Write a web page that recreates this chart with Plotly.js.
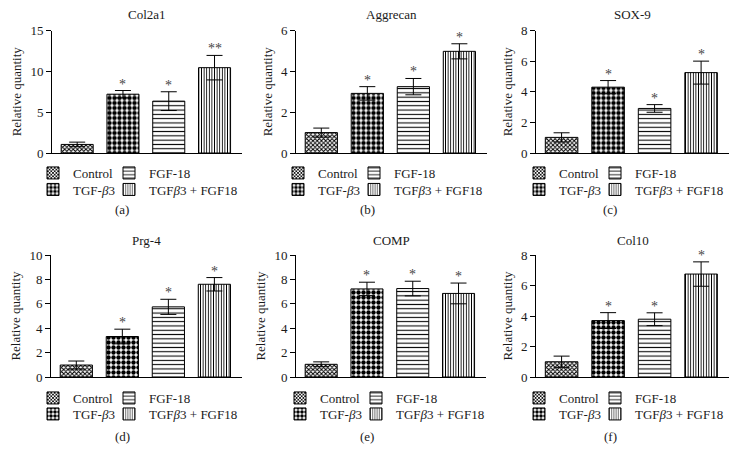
<!DOCTYPE html>
<html><head><meta charset="utf-8">
<script src="https://cdn.plot.ly/plotly-3.0.1.min.js"></script>
<style>html,body{margin:0;padding:0;background:#fff}#chart{width:733px;height:465px}</style>
</head><body><div id="chart"></div>
<script>
// ---- data ----
const groups = ["Control", "TGF-β3", "FGF-18", "TGFβ3 + FGF18"];
const legendNames = ["Control", "TGF-<i>β</i>3", "FGF-18", "TGF<i>β</i>3 + FGF18"];
const genes = ["Col2a1", "Aggrecan", "SOX-9", "Prg-4", "COMP", "Col10"];
const panelLabels = ["(a)", "(b)", "(c)", "(d)", "(e)", "(f)"];

const col2a1Mean = [1.05, 7.2, 6.35, 10.45];
const col2a1Err  = [0.28, 0.45, 1.15, 1.5];
const col2a1Sig  = ["", "*", "*", "**"];

const aggrecanMean = [1.0, 2.92, 3.25, 4.98];
const aggrecanErr  = [0.22, 0.33, 0.4, 0.37];
const aggrecanSig  = ["", "*", "*", "*"];

const sox9Mean = [1.02, 4.3, 2.91, 5.25];
const sox9Err  = [0.3, 0.43, 0.25, 0.75];
const sox9Sig  = ["", "*", "*", "*"];

const prg4Mean = [0.98, 3.32, 5.75, 7.6];
const prg4Err  = [0.33, 0.6, 0.62, 0.55];
const prg4Sig  = ["", "*", "*", "*"];

const compMean = [1.04, 7.22, 7.25, 6.85];
const compErr  = [0.2, 0.55, 0.6, 0.85];
const compSig  = ["", "*", "*", "*"];

const col10Mean = [1.0, 3.7, 3.79, 6.75];
const col10Err  = [0.37, 0.52, 0.42, 0.8];
const col10Sig  = ["", "*", "*", "*"];

const yMax   = [15, 6, 8, 10, 10, 8];
const yDtick = [5, 2, 2, 2, 2, 2];

const means = [col2a1Mean, aggrecanMean, sox9Mean, prg4Mean, compMean, col10Mean];
const errs  = [col2a1Err, aggrecanErr, sox9Err, prg4Err, compErr, col10Err];
const sigs  = [col2a1Sig, aggrecanSig, sox9Sig, prg4Sig, compSig, col10Sig];

// ---- style / layout ----
const W = 733, H = 465;
const FONT = "Liberation Serif, Times New Roman, serif";
const TXT = "#1a1a1a";
const patterns = [
  {shape: "x", size: 3, solidity: 0.55, fgcolor: "#000", bgcolor: "#fff"},
  {shape: ".", size: 5, solidity: 0.62, fgcolor: "#000", bgcolor: "#fff"},
  {shape: "-", size: 4.3, solidity: 0.25, fgcolor: "#000", bgcolor: "#fff"},
  {shape: "|", size: 2.6, solidity: 0.35, fgcolor: "#000", bgcolor: "#fff"}
];
// plot areas in pixels [x0, x1, yTop, yBottom]
const areas = [
  [52, 242, 30.5, 153], [296, 487, 30.5, 153], [536, 729, 30.5, 153],
  [51, 242, 255, 377], [296, 486, 255, 377], [536, 729, 255, 377]
];
const legTextX = [71, 316, 557, 71, 318, 557];
const legRowsTop = [173, 189.5], legRowsBot = [398, 414];
const titleY = [14, 14, 14, 240, 240, 240];
const letterX = [122, 367, 610, 122, 367, 610];
const letterY = [209, 209, 209, 436, 436, 436];

const traces = [];
const layout = {
  width: W, height: H,
  margin: {l: 0, r: 0, t: 0, b: 0},
  paper_bgcolor: "#fff", plot_bgcolor: "#fff",
  font: {family: FONT, color: TXT, size: 13},
  barmode: "overlay",
  annotations: []
};

let legIdx = 0;
for (let p = 0; p < 6; p++) {
  const n = p + 1;
  const xa = "xaxis" + (n === 1 ? "" : n), ya = "yaxis" + (n === 1 ? "" : n);
  const xr = "x" + (n === 1 ? "" : n), yr = "y" + (n === 1 ? "" : n);
  const [x0, x1, yt, yb] = areas[p];
  layout[xa] = {
    domain: [x0 / W, x1 / W], anchor: yr, type: "category",
    categoryorder: "array", categoryarray: groups,
    range: [-0.55, 3.6], showticklabels: false, ticks: "",
    showline: true, linecolor: "#000", linewidth: 1,
    showgrid: false, zeroline: false, fixedrange: true
  };
  layout[ya] = {
    domain: [1 - yb / H, 1 - yt / H], anchor: xr,
    range: [0, yMax[p]], dtick: yDtick[p], tick0: 0,
    ticks: "outside", ticklen: 5, tickwidth: 1, tickcolor: "#000",
    showline: true, linecolor: "#000", linewidth: 1,
    showgrid: false, zeroline: false, fixedrange: true,
    tickfont: {family: FONT, size: 13, color: TXT},
    title: {text: "Relative quantity", font: {family: FONT, size: 13, color: TXT}, standoff: 5}
  };
  for (let g = 0; g < 4; g++) {
    legIdx++;
    const lid = legIdx === 1 ? "legend" : "legend" + legIdx;
    traces.push({
      type: "bar", x: [groups[g]], y: [means[p][g]], width: [0.7],
      xaxis: xr, yaxis: yr, name: legendNames[g],
      legend: lid, showlegend: true, hoverinfo: "skip",
      marker: {color: "#fff", line: {color: "#000", width: 1}, pattern: patterns[g]},
      error_y: {type: "data", array: [errs[p][g]], visible: true, color: "#000", thickness: 1, width: 8}
    });
    const col = g === 0 || g === 1 ? 0 : 1;
    const row = g === 0 || g === 2 ? 0 : 1;
    const rows = p < 3 ? legRowsTop : legRowsBot;
    const tx = legTextX[p] + col * 76;
    layout[lid] = {
      x: (tx - 38) / W, y: 1 - rows[row] / H, xanchor: "left", yanchor: "middle",
      bgcolor: "rgba(0,0,0,0)", borderwidth: 0,
      font: {family: FONT, size: 13, color: TXT}
    };
    if (sigs[p][g]) {
      layout.annotations.push({
        xref: xr, yref: yr, x: groups[g], y: means[p][g] + errs[p][g],
        text: sigs[p][g], showarrow: false, yanchor: "bottom", yshift: -3,
        font: {family: FONT, size: 14, color: "#444"}
      });
    }
  }
  layout.annotations.push({
    xref: "paper", yref: "paper", x: ((x0 + x1) / 2) / W, y: 1 - titleY[p] / H,
    text: genes[p], showarrow: false, xanchor: "center", yanchor: "middle",
    font: {family: FONT, size: 13, color: TXT}
  });
  layout.annotations.push({
    xref: "paper", yref: "paper", x: letterX[p] / W, y: 1 - letterY[p] / H,
    text: panelLabels[p], showarrow: false, xanchor: "center", yanchor: "middle",
    font: {family: FONT, size: 13, color: TXT}
  });
}

Plotly.newPlot("chart", traces, layout, {staticPlot: true, displayModeBar: false});
</script>
</body></html>
